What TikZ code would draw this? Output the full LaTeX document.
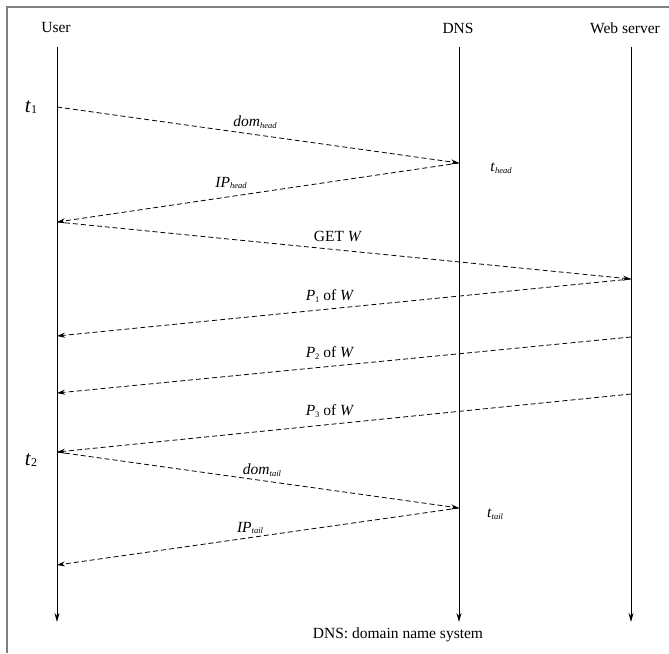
\documentclass[tikz,border=0pt]{standalone}
\usepackage{fontspec}
\setmainfont{Liberation Serif}
\usetikzlibrary{arrows.meta}
\newcommand{\sbs}[1]{\raisebox{-1.5pt}{\fontsize{8.5}{8.5}\selectfont #1}}
\begin{document}
\begin{tikzpicture}[x=1pt,y=-1pt,
  lifeline/.style={line width=0.9pt,-{Stealth[length=9pt,width=5pt]}},
  msg/.style={line width=0.8pt,dash pattern=on 5pt off 3pt,-{Stealth[length=8pt,width=5pt]}},
  head/.style={font=\fontsize{15.5}{15.5}\selectfont,inner sep=0pt},
  lbl/.style={font=\fontsize{15.5}{15.5}\selectfont,inner sep=0pt},
  tlbl/.style={font=\fontsize{21}{21}\selectfont,inner sep=0pt},
  frameline/.style={draw=gray,line width=1.2pt}]
\useasboundingbox (0,0) rectangle (669,653);
\draw[frameline] (7,653) -- (7,7) -- (669,7);
% headers
\node[head] (huser) at (56,28) {User};
\node[head] (hdns) at (458,28) {DNS};
\node[head] (hweb) at (625,28) {Web server};
% lifelines
\coordinate (ut) at (57,47); \coordinate (ub) at (57,622);
\coordinate (dt) at (459,47); \coordinate (db) at (459,622);
\coordinate (wt) at (631,47); \coordinate (wb) at (631,622);
\draw[lifeline] (ut) -- (ub);
\draw[lifeline] (dt) -- (db);
\draw[lifeline] (wt) -- (wb);
% message points
\coordinate (u1) at (57,107);
\coordinate (d1) at (459,163);
\coordinate (u2) at (57,222);
\coordinate (w1) at (631,279);
\coordinate (u3) at (57,336);
\coordinate (w2) at (631,337);
\coordinate (u4) at (57,393);
\coordinate (w3) at (631,394);
\coordinate (u5) at (57,452);
\coordinate (d2) at (459,508);
\coordinate (u6) at (57,565);
\draw[msg] (u1) -- (d1);
\draw[msg] (d1) -- (u2);
\draw[msg] (u2) -- (w1);
\draw[msg] (w1) -- (u3);
\draw[msg] (w2) -- (u4);
\draw[msg] (w3) -- (u5);
\draw[msg] (u5) -- (d2);
\draw[msg] (d2) -- (u6);
% labels
\node[tlbl] (t1) at (31,107) {\textit{t}\raisebox{-1pt}{\fontsize{12}{12}\selectfont 1}};
\node[tlbl] (t2) at (31,460) {\textit{t}\raisebox{-1pt}{\fontsize{12}{12}\selectfont 2}};
\node[lbl] (ldh) at (255,122) {\textit{dom}\sbs{\textit{head}}};
\node[lbl] (lih) at (231,183) {\textit{IP}\sbs{\textit{head}}};
\node[lbl] (lth) at (501,168) {\textit{t}\sbs{\textit{head}}};
\node[lbl] (lget) at (338,236) {GET \textit{W}};
\node[lbl] (lp1) at (330,296) {\textit{P}\sbs{1} of \textit{W}};
\node[lbl] (lp2) at (330,353) {\textit{P}\sbs{2} of \textit{W}};
\node[lbl] (lp3) at (330,411) {\textit{P}\sbs{3} of \textit{W}};
\node[lbl] (ldt) at (262,470) {\textit{dom}\sbs{\textit{tail}}};
\node[lbl] (ltt) at (495,514) {\textit{t}\sbs{\textit{tail}}};
\node[lbl] (lit) at (250,528) {\textit{IP}\sbs{\textit{tail}}};
\node[lbl] (cap) at (398,635) {DNS: domain name system};
\end{tikzpicture}
\end{document}
